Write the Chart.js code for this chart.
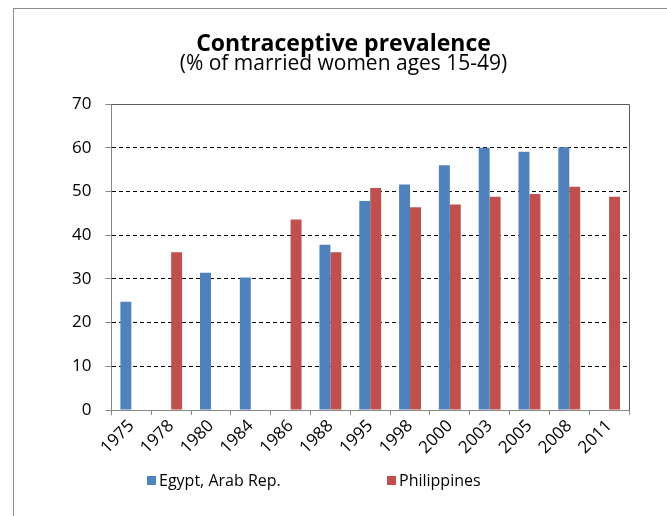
<!DOCTYPE html>
<html>
<head>
<meta charset="utf-8">
<script src="https://cdn.jsdelivr.net/npm/chart.js@4.4.1/dist/chart.umd.min.js"></script>
<style>
  html, body { margin: 0; padding: 0; background: #fff; }
  #wrap { position: relative; width: 667px; height: 516px; overflow: hidden; }
  #frame { position: absolute; left: 13px; top: 8px; width: 700px; height: 600px;
           border-top: 1px solid #8c8c8c; border-left: 1px solid #8c8c8c; }
  canvas { position: absolute; left: 0; top: 0; }
  #legend { position: absolute; top: 470px; left: 0; width: 667px; height: 20px;
            font: 16px "Open Sans", sans-serif; color: #000; }
  #legend .item { position: absolute; top: 0; white-space: nowrap; line-height: 20px; }
  #legend .box { display: inline-block; width: 9px; height: 9px; margin-right: 3px; vertical-align: 1px; }
</style>
</head>
<body>
<div id="wrap">
  <div id="frame"></div>
  <canvas id="chart" width="667" height="516"></canvas>
  <div id="legend"></div>
</div>
<script>
// data
const years = ['1975', '1978', '1980', '1984', '1986', '1988', '1995', '1998', '2000', '2003', '2005', '2008', '2011'];
const egypt = [24.8, null, 31.4, 30.3, null, 37.8, 47.8, 51.6, 56.0, 60.0, 59.1, 60.1, null];
const philippines = [null, 36.1, null, null, 43.6, 36.1, 50.8, 46.4, 47.0, 48.8, 49.4, 51.1, 48.8];
const yTicks = [0, 10, 20, 30, 40, 50, 60, 70];

const fontFamily = '"Open Sans", sans-serif';

// solid frame on top and right of the plot area, like the Excel original
const plotFrame = {
    id: 'plotFrame',
    afterDatasetsDraw(chart) {
        const a = chart.chartArea;
        const c = chart.ctx;
        c.save();
        c.strokeStyle = '#595959';
        c.lineWidth = 1;
        c.beginPath();
        c.moveTo(Math.round(a.left) + 0.5, Math.round(a.top) + 0.5);
        c.lineTo(Math.round(a.right) + 0.5, Math.round(a.top) + 0.5);
        c.lineTo(Math.round(a.right) + 0.5, Math.round(a.bottom) + 0.5);
        c.stroke();
        c.restore();
    }
};

const ctx = document.getElementById('chart');
const chart = new Chart(ctx.getContext('2d'), {
    type: 'bar',
    data: {
        labels: years,
        datasets: [
            {
                label: 'Egypt, Arab Rep.',
                data: egypt,
                backgroundColor: '#4F81BD',
                borderWidth: 0
            },
            {
                label: 'Philippines',
                data: philippines,
                backgroundColor: '#C0504D',
                borderWidth: 0
            }
        ]
    },
    options: {
        responsive: false,
        animation: false,
        devicePixelRatio: 1,
        layout: {
            padding: { left: 58, right: 38, top: 33, bottom: 57 }
        },
        datasets: {
            bar: {
                categoryPercentage: 0.55,
                barPercentage: 1
            }
        },
        plugins: {
            title: {
                display: true,
                text: 'Contraceptive prevalence',
                color: '#000',
                font: { family: fontFamily, size: 23, weight: 'bold', lineHeight: 1 },
                padding: { top: 0, bottom: -2 }
            },
            subtitle: {
                display: true,
                text: '(% of married women ages 15-49)',
                color: '#000',
                font: { family: fontFamily, size: 21, lineHeight: 1 },
                padding: { top: 0, bottom: 29 }
            },
            legend: { display: false },
            tooltip: { enabled: false }
        },
        scales: {
            x: {
                grid: {
                    display: true,
                    drawOnChartArea: false,
                    offset: true,
                    tickLength: 5,
                    tickColor: '#868686'
                },
                border: { color: '#868686' },
                ticks: {
                    color: '#000',
                    font: { family: fontFamily, size: 17 },
                    minRotation: 45,
                    maxRotation: 45,
                    padding: 1
                }
            },
            y: {
                min: 0,
                max: 70,
                afterBuildTicks(scale) {
                    scale.ticks = yTicks.map(v => ({ value: v }));
                },
                grid: {
                    color: c => (c.tick && c.tick.value === 0 ? 'transparent' : '#000'),
                    tickColor: '#868686',
                    tickLength: 6,
                    lineWidth: 1
                },
                border: {
                    color: '#868686',
                    dash: c => (c.tick && c.tick.value === 70 ? [] : [4, 3])
                },
                ticks: {
                    color: '#000',
                    font: { family: fontFamily, size: 17 },
                    padding: 14
                }
            }
        }
    },
    plugins: [plotFrame]
});

// legend laid out like the Excel one: two items spread across the bottom
const legendSpots = [147, 387];
const legend = document.getElementById('legend');
chart.data.datasets.forEach((ds, i) => {
    const item = document.createElement('span');
    item.className = 'item';
    item.style.left = legendSpots[i] + 'px';
    const box = document.createElement('span');
    box.className = 'box';
    box.style.background = ds.backgroundColor;
    item.appendChild(box);
    item.appendChild(document.createTextNode(ds.label));
    legend.appendChild(item);
});
</script>
</body>
</html>
